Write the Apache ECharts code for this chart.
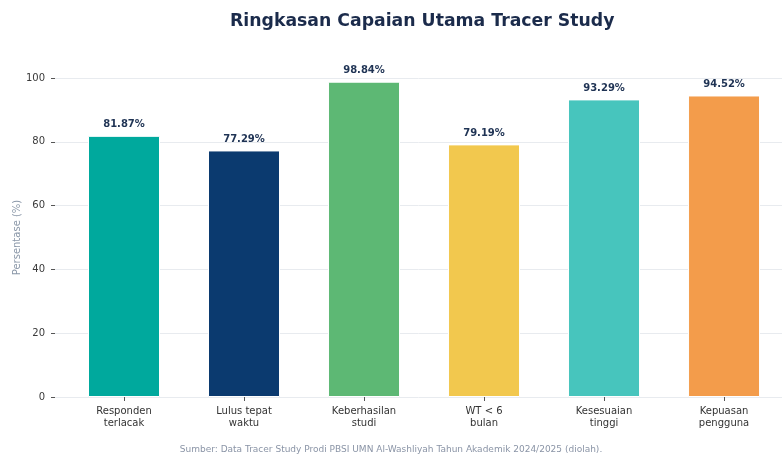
<!DOCTYPE html>
<html lang="id">

<head>
    <meta charset="UTF-8">
    <title>Ringkasan Capaian Utama Tracer Study</title>
    <script src="https://cdn.jsdelivr.net/npm/echarts@6/dist/echarts.min.js"></script>
    <style>
        html, body { margin: 0; padding: 0; background: #fff; }
    </style>
</head>

<body>
    <div id="main" style="width: 782px;height:454px;"></div>
    <script>
        // data
        var categories = ['Responden\nterlacak', 'Lulus tepat\nwaktu', 'Keberhasilan\nstudi', 'WT < 6\nbulan', 'Kesesuaian\ntinggi', 'Kepuasan\npengguna'];
        var values = [81.87, 77.29, 98.84, 79.19, 93.29, 94.52];
        var colors = ['#00a99d', '#0b3a6f', '#5db874', '#f2c84e', '#47c5bd', '#f39c4b'];
        var yTicks = [0, 20, 40, 60, 80, 100];

        var font = 'DejaVu Sans';
        var myChart = echarts.init(document.getElementById('main'));

        var barData = values.map(function (v, i) {
            return { value: [i, v], itemStyle: { color: colors[i] } };
        });
        var xPos = categories.map(function (c, i) { return i; });

        var option = {
            animation: false,
            textStyle: { fontFamily: font },
            title: [{
                text: 'Ringkasan Capaian Utama Tracer Study',
                left: 225,
                top: 8,
                textStyle: { fontFamily: font, fontSize: 17.3, fontWeight: 'bold', color: '#1b2b4b' }
            }, {
                text: 'Sumber: Data Tracer Study Prodi PBSI UMN Al-Washliyah Tahun Akademik 2024/2025 (diolah).',
                left: 'center',
                top: 440,
                textStyle: { fontFamily: font, fontSize: 9, fontWeight: 'normal', color: '#8a94a6' }
            }],
            grid: { left: 55, right: 0, top: 78, bottom: 57, outerBoundsMode: 'none' },
            xAxis: {
                type: 'value',
                min: -0.575,
                max: 5.483,
                splitLine: { show: false },
                axisLine: { show: false },
                axisTick: { show: true, length: 4, customValues: xPos, lineStyle: { color: '#555' } },
                axisLabel: {
                    customValues: xPos,
                    formatter: function (v) { return categories[Math.round(v)]; },
                    color: '#333',
                    fontSize: 10,
                    lineHeight: 12,
                    margin: 8,
                    fontFamily: font
                }
            },
            yAxis: {
                type: 'value',
                min: 0,
                max: 100,
                interval: 20,
                name: 'Persentase (%)',
                nameLocation: 'middle',
                nameGap: 33,
                nameMoveOverlap: false,
                nameTextStyle: { color: '#8a97a8', fontSize: 10, fontFamily: font },
                axisLine: { show: false, onZero: false },
                axisTick: { show: true, length: 4, lineStyle: { color: '#555' } },
                axisLabel: { color: '#3a3a3a', fontSize: 10, margin: 10, fontFamily: font },
                splitLine: { lineStyle: { color: '#e8ebef', width: 1 } }
            },
            series: [{
                type: 'bar',
                data: barData,
                barWidth: 72,
                itemStyle: { borderColor: '#fff', borderWidth: 1 },
                label: {
                    show: true,
                    position: 'top',
                    distance: 6,
                    formatter: function (p) { return p.value[1].toFixed(2) + '%'; },
                    fontFamily: font,
                    fontSize: 10,
                    fontWeight: 'bold',
                    color: '#1f3354'
                }
            }]
        };

        myChart.setOption(option);
    </script>
</body>

</html>
